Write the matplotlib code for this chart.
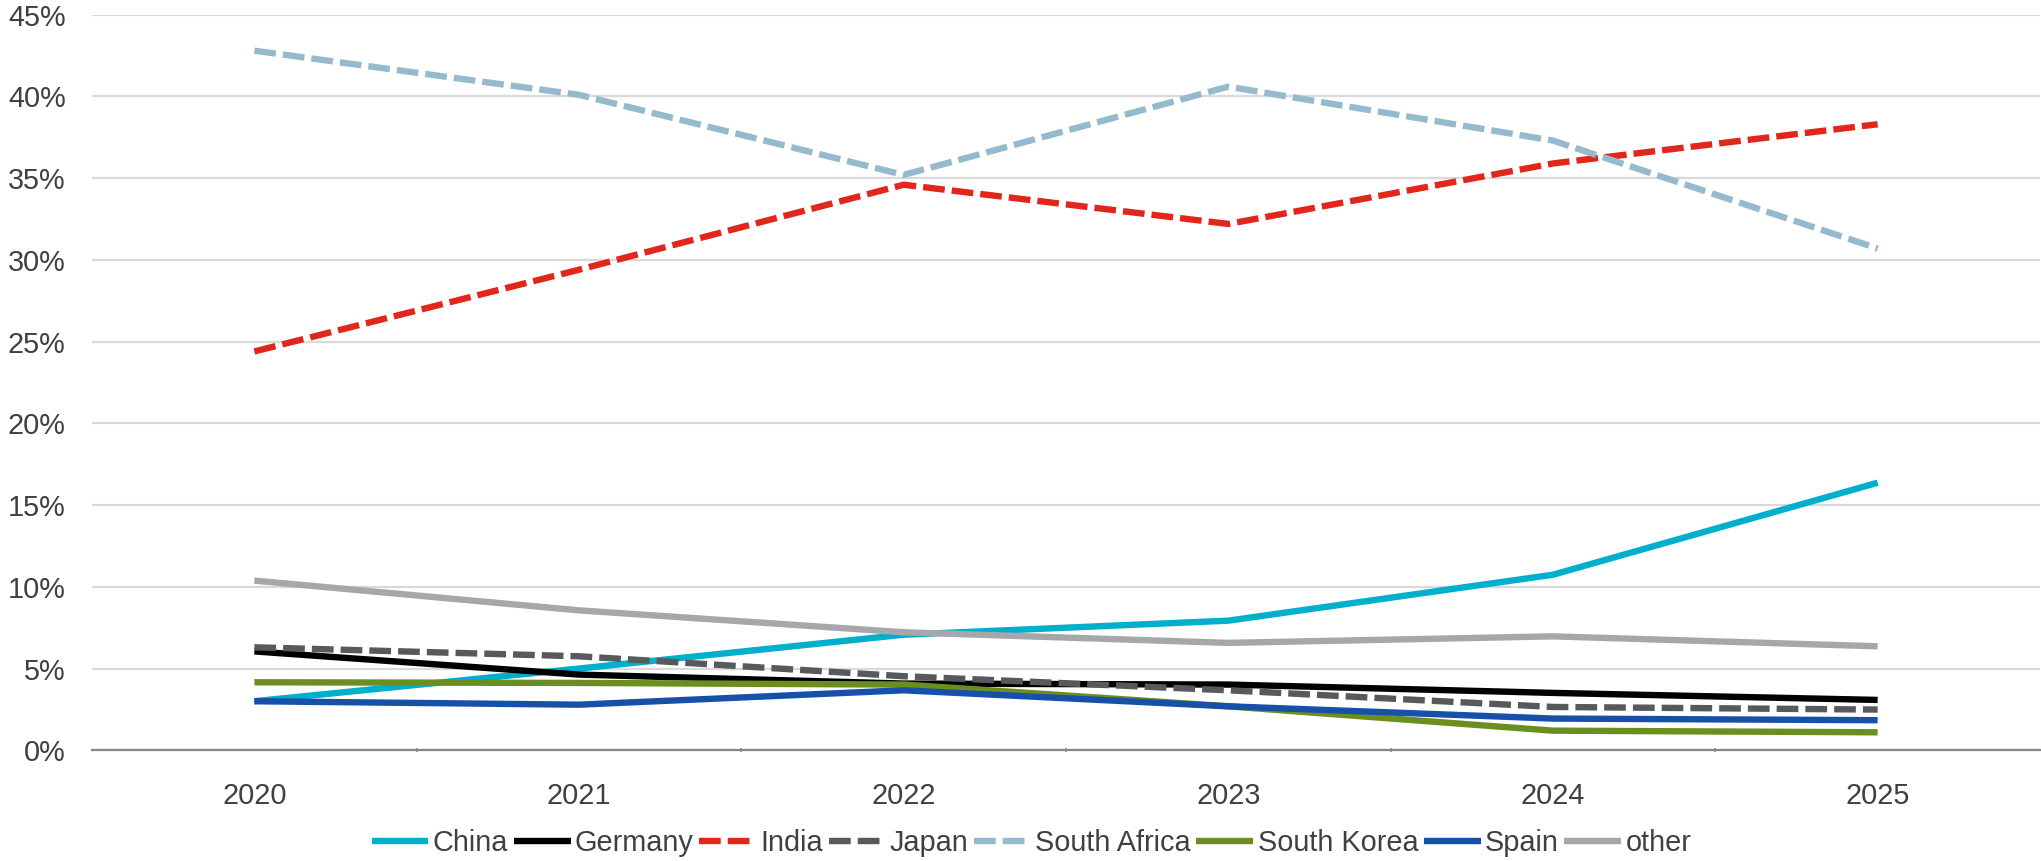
import matplotlib
matplotlib.use("Agg")
import matplotlib.pyplot as plt
from matplotlib.ticker import FixedLocator, FuncFormatter

years = ["2020", "2021", "2022", "2023", "2024", "2025"]
china = [3.0, 5.0, 7.07, 7.93, 10.74, 16.37]
germany = [6.05, 4.63, 4.08, 4.02, 3.51, 3.08]
india = [24.4, 29.4, 34.6, 32.2, 35.9, 38.3]
japan = [6.3, 5.75, 4.53, 3.67, 2.65, 2.49]
south_africa = [42.8, 40.1, 35.2, 40.6, 37.3, 30.7]
south_korea = [4.16, 4.12, 4.02, 2.69, 1.2, 1.1]
spain = [3.0, 2.79, 3.67, 2.69, 1.94, 1.84]
other = [10.38, 8.56, 7.22, 6.57, 6.97, 6.36]

series = [
    ("China", china, "#00AFCB", "-"),
    ("Germany", germany, "#000000", "-"),
    ("India", india, "#E1261C", "--"),
    ("Japan", japan, "#58595B", "--"),
    ("South Africa", south_africa, "#95BACE", "--"),
    ("South Korea", south_korea, "#6A8F1E", "-"),
    ("Spain", spain, "#1650A8", "-"),
    ("other", other, "#A6A7AB", "-"),
]

plt.rcParams['font.family'] = ['Liberation Sans', 'DejaVu Sans']

fig = plt.figure(figsize=(20.41, 8.61), dpi=100)
ax = fig.add_axes([0.0451, 0.1286, 0.9544, 0.8543])

x = list(range(len(years)))
lw = 4.6
for name, vals, col, ls in series:
    line, = ax.plot(x, vals, color=col, lw=lw, label=name, solid_capstyle='butt',
                    solid_joinstyle='miter')
    if ls == "--":
        line.set_dashes([3.4, 1.1])
        line.set_dash_capstyle('butt')

ax.set_xlim(-0.5, len(years) - 0.5)
ax.set_ylim(0, 45)
ax.set_yticks([0, 5, 10, 15, 20, 25, 30, 35, 40, 45])
ax.yaxis.set_major_formatter(FuncFormatter(lambda v, p: f"{int(v)}%"))
ax.grid(axis='y', color='#DADADA', lw=1.6)
ax.set_axisbelow(True)

ax.set_xticks(x)
ax.set_xticklabels(years)
ax.xaxis.set_minor_locator(FixedLocator([i + 0.5 for i in range(len(years) - 1)]))
ax.tick_params(axis='x', which='major', length=0, pad=23, labelsize=20.8, labelcolor='#404040')
ax.tick_params(axis='x', which='minor', length=3, width=1.2, color='#868686', direction='inout')
ax.tick_params(axis='y', length=0, pad=19, labelsize=20.8, labelcolor='#404040')

for s in ['top', 'right', 'left']:
    ax.spines[s].set_visible(False)
ax.spines['bottom'].set_color('#868686')
ax.spines['bottom'].set_linewidth(1.6)

leg = fig.legend(loc='center', bbox_to_anchor=(0.5054, 0.021), ncol=8, frameon=False,
                 fontsize=20.8, handlelength=1.97, handletextpad=0.15, columnspacing=0.19,
                 labelcolor='#404040', borderpad=0, borderaxespad=0)

fig.savefig("out.png", dpi=100)
